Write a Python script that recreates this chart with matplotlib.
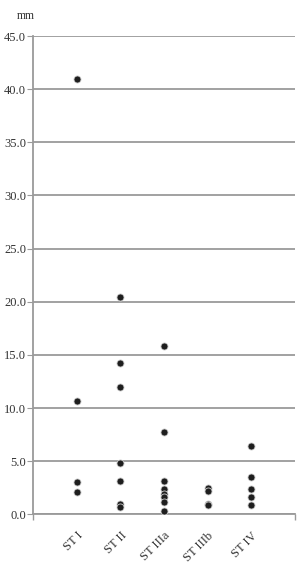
import numpy as np
import matplotlib.pyplot as plt
import matplotlib.transforms as mtransforms

grupos = ['ST I', 'ST II', 'ST IIIa', 'ST IIIb', 'ST IV']
st1 = [41.0, 10.7, 3.0, 2.1]
st2 = [20.4, 14.2, 12.0, 4.8, 3.1, 1.0, 0.7]
st3a = [15.8, 7.7, 3.1, 2.4, 1.9, 1.6, 1.2, 0.3]
st3b = [2.5, 2.2, 1.0, 0.9]
st4 = [6.4, 3.5, 2.4, 1.6, 0.9]
valores = [st1, st2, st3a, st3b, st4]

plt.rcParams['font.family'] = ['Liberation Serif', 'DejaVu Serif']

fig = plt.figure(figsize=(2.98, 5.63), dpi=100)
ax = fig.add_axes([0.111, 0.0865, 0.879, 0.8495])

for i, v in enumerate(valores):
    ax.scatter(np.full(len(v), i + 1), v, s=26, color='#1e1e1e',
               edgecolors='#cfcfcf', linewidths=0.6, zorder=3)

ax.set_xlim(0, 6)
ax.set_ylim(0, 45)
ax.set_yticks(np.arange(0, 46, 5))
ax.set_yticklabels(['%.1f' % t for t in np.arange(0, 46, 5)])
ax.yaxis.grid(True, color='#9a9a9a', linewidth=1.3)
ax.set_axisbelow(True)

# etiquetas en 1..5, marcas de eje en 0,2,4,6
ax.set_xticks(range(1, 6))
ax.set_xticklabels(grupos, rotation=45, ha='right', rotation_mode='anchor')
ax.set_xticks([0, 2, 4, 6], minor=True)
desplaza = mtransforms.ScaledTranslation(5 / 72, 0, fig.dpi_scale_trans)
for lab in ax.get_xticklabels():
    lab.set_transform(lab.get_transform() + desplaza)

for s in ['top', 'right']:
    ax.spines[s].set_visible(False)
ax.spines['left'].set_color('#9a9a9a')
ax.spines['left'].set_linewidth(1.3)
ax.spines['bottom'].set_color('#9a9a9a')
ax.spines['bottom'].set_linewidth(1.3)
ax.tick_params(axis='y', length=4, color='#9a9a9a', labelsize=9, labelcolor='#333333', pad=1)
ax.tick_params(axis='x', which='major', length=0, labelsize=9, labelcolor='#333333', pad=11)
ax.tick_params(axis='x', which='minor', length=4, color='#9a9a9a', width=1)

fig.text(0.085, 0.972, 'mm', fontsize=8.5, color='#333333', ha='center', va='center')

plt.savefig('out.png', dpi=100)
